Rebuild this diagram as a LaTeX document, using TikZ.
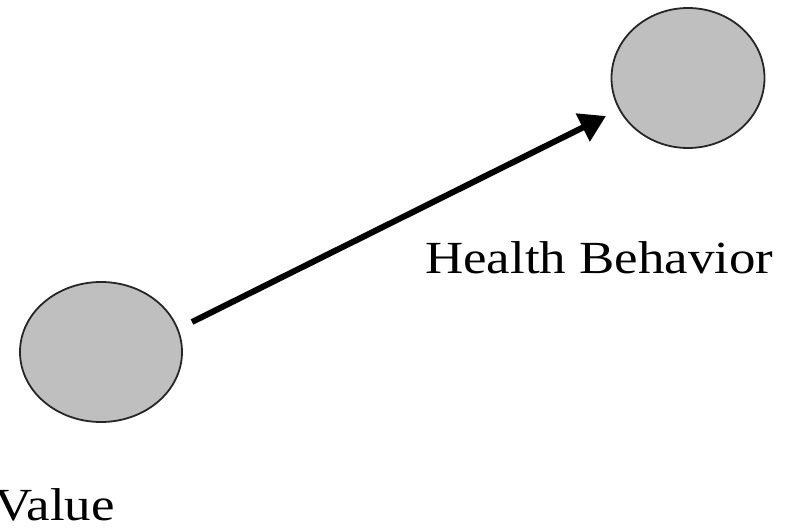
\documentclass[tikz,border=0pt]{standalone}
\usepackage{fontspec}
\setmainfont{Liberation Serif}
\usetikzlibrary{arrows.meta,shapes.geometric}
\begin{document}
\begin{tikzpicture}[x=1pt,y=1pt,
  latent/.style={ellipse,draw=black!85,line width=1.8pt,fill=black!25,inner sep=0pt},
  lbl/.style={font=\fontsize{46}{50}\selectfont,inner sep=0pt,anchor=base west,xscale=1.15},
  link/.style={line width=6pt,-{Triangle[length=26pt,width=30pt]}}]
\useasboundingbox (0,0) rectangle (794,528);
\node[latent,minimum width=162pt,minimum height=140pt] (value) at (101,176) {};
\node[latent,minimum width=153pt,minimum height=140pt] (health) at (688,450) {};
\node[lbl] (hlabel) at (425,255) {Health Behavior};
\node[lbl] (vlabel) at (-6,8) {Value};
\coordinate (s) at (192,206);
\coordinate (t) at (606,412);
\draw[link] (s) -- (t);
\end{tikzpicture}
\end{document}
